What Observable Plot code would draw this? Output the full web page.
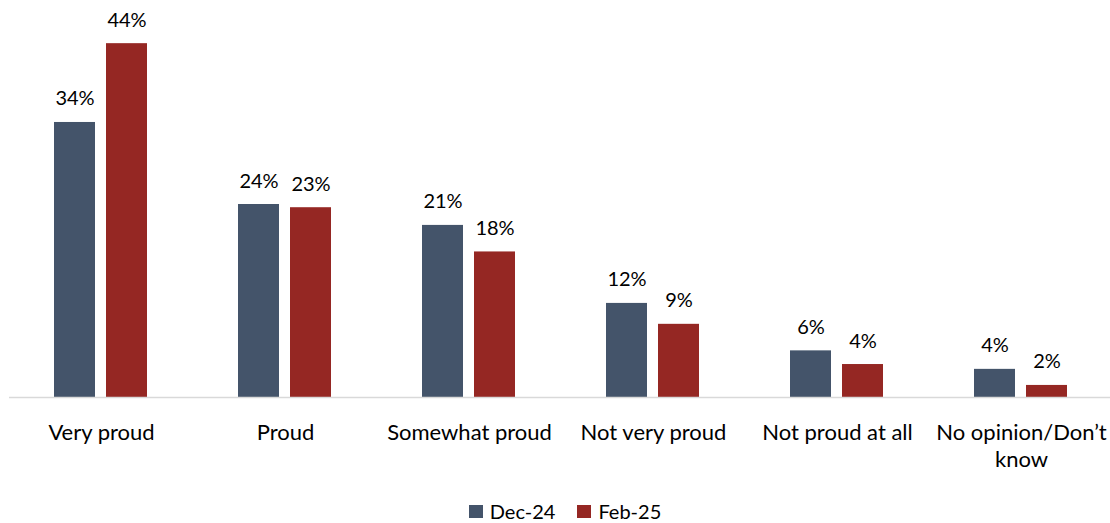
<!DOCTYPE html>
<html>
<head>
<meta charset="utf-8">
<script src="https://cdn.jsdelivr.net/npm/d3@7"></script>
<script src="https://cdn.jsdelivr.net/npm/@observablehq/plot@0.6"></script>
<style>
  html, body { margin: 0; padding: 0; background: #fff; }
  #chart { width: 1110px; height: 523px; overflow: hidden; font-family: Lato, "Open Sans", sans-serif; color: #000; }
  #legend { display: flex; justify-content: center; align-items: center; padding-left: 20px; padding-top: 16px; font-size: 20px; line-height: 20px; }
  .item { display: flex; align-items: center; margin: 0 11px; }
  .sw { width: 14px; height: 13px; margin-right: 7px; }
</style>
</head>
<body>
<div id="chart"></div>
<script>
const categories = ["Very proud", "Proud", "Somewhat proud", "Not very proud", "Not proud at all", "No opinion/Don’t know"];
const categoryLabels = ["Very proud", "Proud", "Somewhat proud", "Not very proud", "Not proud at all", "No opinion/Don’t\nknow"];
const series = ["Dec-24", "Feb-25"];
const dec24 = [34.2, 24.0, 21.4, 11.7, 5.8, 3.5];
const feb25 = [44.0, 23.6, 18.1, 9.1, 4.1, 1.5];
const dec24Labels = ["34%", "24%", "21%", "12%", "6%", "4%"];
const feb25Labels = ["44%", "23%", "18%", "9%", "4%", "2%"];
const colors = ["#44546a", "#952723"];

const data = [];
categories.forEach((c, i) => {
  data.push({category: c, series: series[0], value: dec24[i], label: dec24Labels[i]});
  data.push({category: c, series: series[1], value: feb25[i], label: feb25Labels[i]});
});

const font = "Lato, 'Open Sans', sans-serif";
const plot = Plot.plot({
  width: 1110,
  height: 485,
  marginLeft: 9,
  marginRight: -3,
  marginTop: 11,
  marginBottom: 88,
  style: {fontFamily: font, fontSize: "20px", color: "#000", background: "#fff", overflow: "visible"},
  fx: {domain: categories, padding: 0, axis: null, label: null},
  x: {domain: series, paddingInner: 0.2075, paddingOuter: 0.84, axis: null},
  y: {domain: [0, 48], axis: null},
  color: {domain: series, range: colors},
  marks: [
    Plot.barY(data, {fx: "category", x: "series", y: "value", fill: "series"}),
    Plot.text(data, {fx: "category", x: "series", y: "value", text: "label", lineAnchor: "bottom", dy: -17, fontSize: 20, fill: "#000"}),
    Plot.ruleY([0], {stroke: "#d9d9d9", strokeWidth: 1.5}),
    Plot.axisFx({anchor: "bottom", tickSize: 0, tickPadding: 23, fontSize: 22, lineHeight: 1.23, fill: "#000", label: null,
      tickFormat: d => categoryLabels[categories.indexOf(d)]})
  ]
});
document.getElementById("chart").appendChild(plot);

const legend = document.createElement("div");
legend.id = "legend";
series.forEach((s, i) => {
  const item = document.createElement("div");
  item.className = "item";
  const sw = document.createElement("span");
  sw.className = "sw";
  sw.style.background = colors[i];
  const t = document.createElement("span");
  t.textContent = s;
  item.appendChild(sw);
  item.appendChild(t);
  legend.appendChild(item);
});
document.getElementById("chart").appendChild(legend);
</script>
</body>
</html>
